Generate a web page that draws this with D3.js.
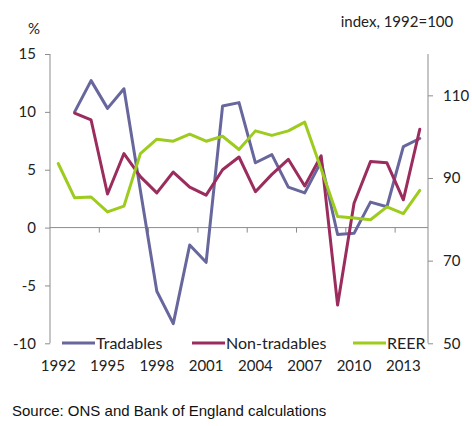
<!DOCTYPE html>
<html><head><meta charset="utf-8">
<script src="https://cdn.jsdelivr.net/npm/d3@7"></script>
<style>body{margin:0;background:#fff;}svg{display:block;}</style>
</head><body>
<svg id="c" width="472" height="426"></svg>
<script>
const years = d3.range(1992, 2015);
const tickYears = [1992, 1995, 1998, 2001, 2004, 2007, 2010, 2013];
const leftTicks = [-10, -5, 0, 5, 10, 15];
const rightTicks = [50, 70, 90, 110];
// Tradables (% , left axis), from 1993
const tradables = [null, 10.0, 12.7, 10.3, 12.0, 3.2, -5.5, -8.3, -1.5, -3.0, 10.5, 10.8, 5.6, 6.3, 3.5, 3.0, 5.7, -0.6, -0.5, 2.2, 1.8, 7.0, 7.7];
// Non-tradables (% , left axis), from 1993
const nonTradables = [null, 9.9, 9.3, 2.9, 6.4, 4.4, 3.0, 4.8, 3.5, 2.8, 5.0, 6.1, 3.1, 4.6, 5.9, 3.6, 6.2, -6.7, 2.1, 5.7, 5.6, 2.4, 8.5];
// REER (index 1992=100, right axis)
const reer = [93.5, 85.2, 85.4, 81.8, 83.2, 95.9, 99.4, 98.9, 100.6, 98.9, 100.1, 96.9, 101.4, 100.3, 101.4, 103.5, 92.2, 80.7, 80.3, 79.9, 83.0, 81.4, 87.0];
const seriesNames = ["Tradables", "Non-tradables", "REER"];
const colors = ["#67679d", "#9b2c5e", "#9dcb1e"];

const svg = d3.select("#c");
const L = 50, R = 428, T = 54, B = 343.3;
const x = d3.scaleBand().domain(years).range([L, R]).padding(0);
const cx = d => x(d) + x.bandwidth() / 2;
const yL = d3.scaleLinear().domain([-10, 15]).range([B, T]);
const yR = d3.scaleLinear().domain([50, 120]).range([B, T]);
const font = "Lato, 'Open Sans', sans-serif";
const axisColor = "#8c8c8c";

// left axis
const gl = svg.append("g").attr("transform", `translate(${L},0)`)
  .call(d3.axisLeft(yL).tickValues(leftTicks).tickSize(5).tickPadding(9).tickFormat(d => String(d)));
// right axis
const gr = svg.append("g").attr("transform", `translate(${R},0)`)
  .call(d3.axisRight(yR).tickValues(rightTicks).tickSize(5).tickPadding(10).tickFormat(d => String(d)));
[gl, gr].forEach(g => {
  g.select(".domain").attr("stroke", axisColor).attr("d", `M0,${T}V${B}`);
  g.selectAll(".tick line").attr("stroke", axisColor);
  g.selectAll(".tick text").attr("font-family", font).attr("font-size", 15).attr("fill", "#222");
});
// x axis at zero
const y0 = yL(0);
svg.append("line").attr("x1", L).attr("x2", R).attr("y1", y0).attr("y2", y0).attr("stroke", axisColor);
svg.append("g").selectAll("line").data(tickYears.filter(d => d !== 1992))
  .join("line").attr("x1", d => x(d)).attr("x2", d => x(d)).attr("y1", y0).attr("y2", y0 + 5).attr("stroke", axisColor);
svg.append("g").selectAll("text").data(tickYears).join("text")
  .attr("x", d => cx(d)).attr("y", 371).attr("text-anchor", "middle")
  .attr("font-family", font).attr("font-size", 15).attr("fill", "#222").text(d => d);

// lines
const lineL = d3.line().defined(d => d.v != null).x(d => cx(d.yr)).y(d => yL(d.v));
const lineR = d3.line().defined(d => d.v != null).x(d => cx(d.yr)).y(d => yR(d.v));
const mk = arr => years.map((yr, i) => ({yr, v: arr[i]}));
[[tradables, lineL], [nonTradables, lineL], [reer, lineR]].forEach(([arr, ln], i) => {
  svg.append("path").attr("d", ln(mk(arr))).attr("fill", "none").attr("stroke", colors[i])
    .attr("stroke-width", 3).attr("stroke-linejoin", "round").attr("stroke-linecap", "round");
});

// legend
const legX = [62, 192, 353];
const legY = 343;
seriesNames.forEach((n, i) => {
  svg.append("line").attr("x1", legX[i]).attr("x2", legX[i] + 33).attr("y1", legY).attr("y2", legY)
    .attr("stroke", colors[i]).attr("stroke-width", 3);
  svg.append("text").attr("x", legX[i] + 34).attr("y", legY + 5.5).attr("font-family", font)
    .attr("font-size", 16).attr("fill", "#222").text(n);
});

// titles
svg.append("text").attr("x", 34).attr("y", 34).attr("text-anchor", "middle").attr("font-family", font)
  .attr("font-size", 15).attr("fill", "#222").text("%");
svg.append("text").attr("x", 397).attr("y", 27).attr("text-anchor", "middle").attr("font-family", font)
  .attr("font-size", 15).attr("fill", "#222").text("index, 1992=100");
svg.append("text").attr("x", 12).attr("y", 416).attr("font-family", "'Liberation Sans', Arial, sans-serif")
  .attr("font-size", 15).attr("fill", "#111").text("Source: ONS and Bank of England calculations");
</script>
</body></html>
